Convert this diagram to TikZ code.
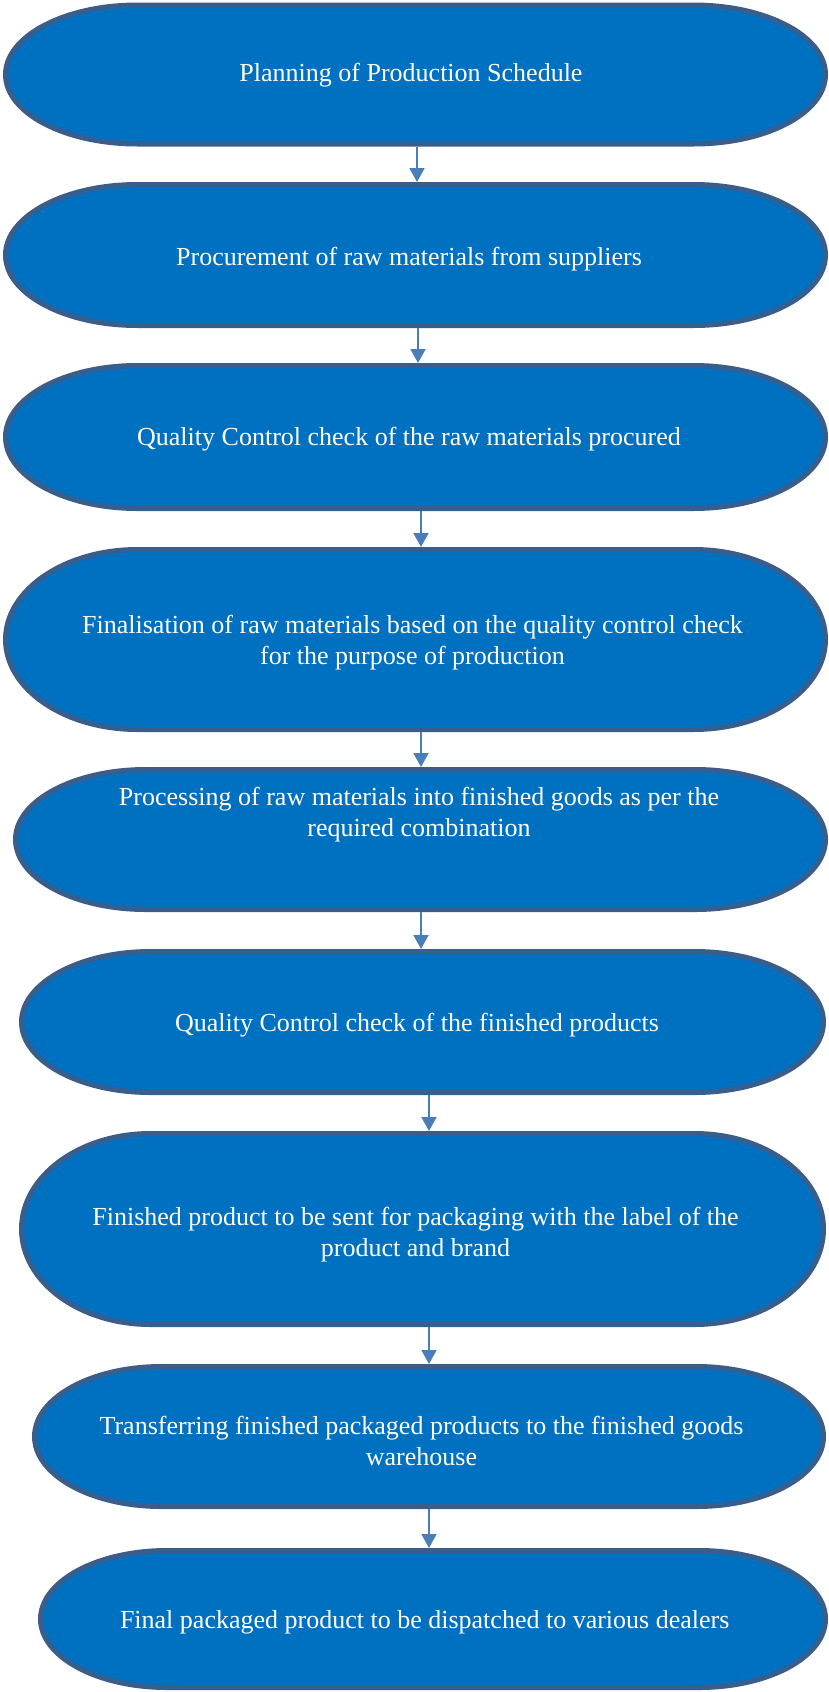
\documentclass[tikz,border=0pt]{standalone}
\usepackage{fontspec}
\setmainfont{Liberation Serif}
\usetikzlibrary{arrows.meta,calc}

\definecolor{stepfill}{HTML}{0070C0}
\definecolor{stepline}{HTML}{3A5E8C}
\definecolor{flowblue}{HTML}{4A7EBB}

% terminator outline round an empty node: #1 node, #2 x radius of the ends
\newcommand{\terminal}[2]{%
  \draw[termline] (#1.west)
    .. controls ($(#1.west)!0.5523!(#1.north west)$) and ([xshift=0.4477*#2]#1.north west) .. ([xshift=#2]#1.north west)
    -- ([xshift=-#2]#1.north east)
    .. controls ([xshift=-0.4477*#2]#1.north east) and ($(#1.east)!0.5523!(#1.north east)$) .. (#1.east)
    .. controls ($(#1.east)!0.5523!(#1.south east)$) and ([xshift=-0.4477*#2]#1.south east) .. ([xshift=-#2]#1.south east)
    -- ([xshift=#2]#1.south west)
    .. controls ([xshift=0.4477*#2]#1.south west) and ($(#1.west)!0.5523!(#1.south west)$) .. (#1.west) -- cycle;}

\begin{document}
\begin{tikzpicture}[x=1pt, y=-1pt,
    stepbox/.style={rectangle, inner sep=0pt, outer sep=0pt},
    termline/.style={draw=stepline, fill=stepfill, line width=5pt},
    steptext/.style={text=white, align=center, inner sep=0pt, font=\fontsize{26}{31}\selectfont},
    flow/.style={draw=flowblue, line width=2pt, -{Triangle[length=14pt, width=15pt]}}
]
\useasboundingbox (0,0) rectangle (829,1692);

% Step outlines
\node[stepbox, minimum width=820pt, minimum height=139pt] (b1) at (415.5,74.5) {};
\node[stepbox, minimum width=820pt, minimum height=141pt] (b2) at (415.5,255) {};
\node[stepbox, minimum width=820pt, minimum height=143pt] (b3) at (415.5,437) {};
\node[stepbox, minimum width=820pt, minimum height=180pt] (b4) at (415.5,639.5) {};
\node[stepbox, minimum width=810pt, minimum height=140pt] (b5) at (420.5,839.5) {};
\node[stepbox, minimum width=802pt, minimum height=141pt] (b6) at (422.5,1022) {};
\node[stepbox, minimum width=802pt, minimum height=191pt] (b7) at (422.5,1229) {};
\node[stepbox, minimum width=789pt, minimum height=140pt] (b8) at (429,1436.5) {};
\node[stepbox, minimum width=785pt, minimum height=137pt] (b9) at (433,1619) {};

\terminal{b1}{132pt}
\terminal{b2}{132pt}
\terminal{b3}{132pt}
\terminal{b4}{132pt}
\terminal{b5}{130.5pt}
\terminal{b6}{129pt}
\terminal{b7}{129pt}
\terminal{b8}{127pt}
\terminal{b9}{126.5pt}

% Step texts
\node[steptext] (t1) at (411,75) {Planning of Production Schedule};
\node[steptext] (t2) at (409,259) {Procurement of raw materials from suppliers};
\node[steptext] (t3) at (409,439) {Quality Control check of the raw materials procured};
\node[steptext] (t4) at (412.5,643) {Finalisation of raw materials based on the quality control check\\for the purpose of production};
\node[steptext] (t5) at (419,815) {Processing of raw materials into finished goods as per the\\required combination};
\node[steptext] (t6) at (417,1025) {Quality Control check of the finished products};
\node[steptext] (t7) at (415.5,1235) {Finished product to be sent for packaging with the label of the\\product and brand};
\node[steptext] (t8) at (421.5,1441) {Transferring finished packaged products to the finished goods\\warehouse};
\node[steptext] (t9) at (424.7,1622) {Final packaged product to be dispatched to various dealers};

% Arrows between steps
\draw[flow] ($(b1.south)+(1.5,2.5)$) -- ($(b1.south |- b2.north)+(1.5,-2.5)$);
\draw[flow] ($(b2.south)+(2.5,2.5)$) -- ($(b2.south |- b3.north)+(2.5,-2.5)$);
\draw[flow] ($(b3.south)+(5.5,2.5)$) -- ($(b3.south |- b4.north)+(5.5,-2.5)$);
\draw[flow] ($(b4.south)+(5.5,2.5)$) -- ($(b4.south |- b5.north)+(5.5,-2.5)$);
\draw[flow] ($(b5.south)+(0.5,2.5)$) -- ($(b5.south |- b6.north)+(0.5,-2.5)$);
\draw[flow] ($(b6.south)+(6.5,2.5)$) -- ($(b6.south |- b7.north)+(6.5,-2.5)$);
\draw[flow] ($(b7.south)+(6.5,2.5)$) -- ($(b7.south |- b8.north)+(6.5,-2.5)$);
\draw[flow] ($(b8.south)+(0,2.5)$) -- ($(b8.south |- b9.north)+(0,-2.5)$);

\end{tikzpicture}
\end{document}
